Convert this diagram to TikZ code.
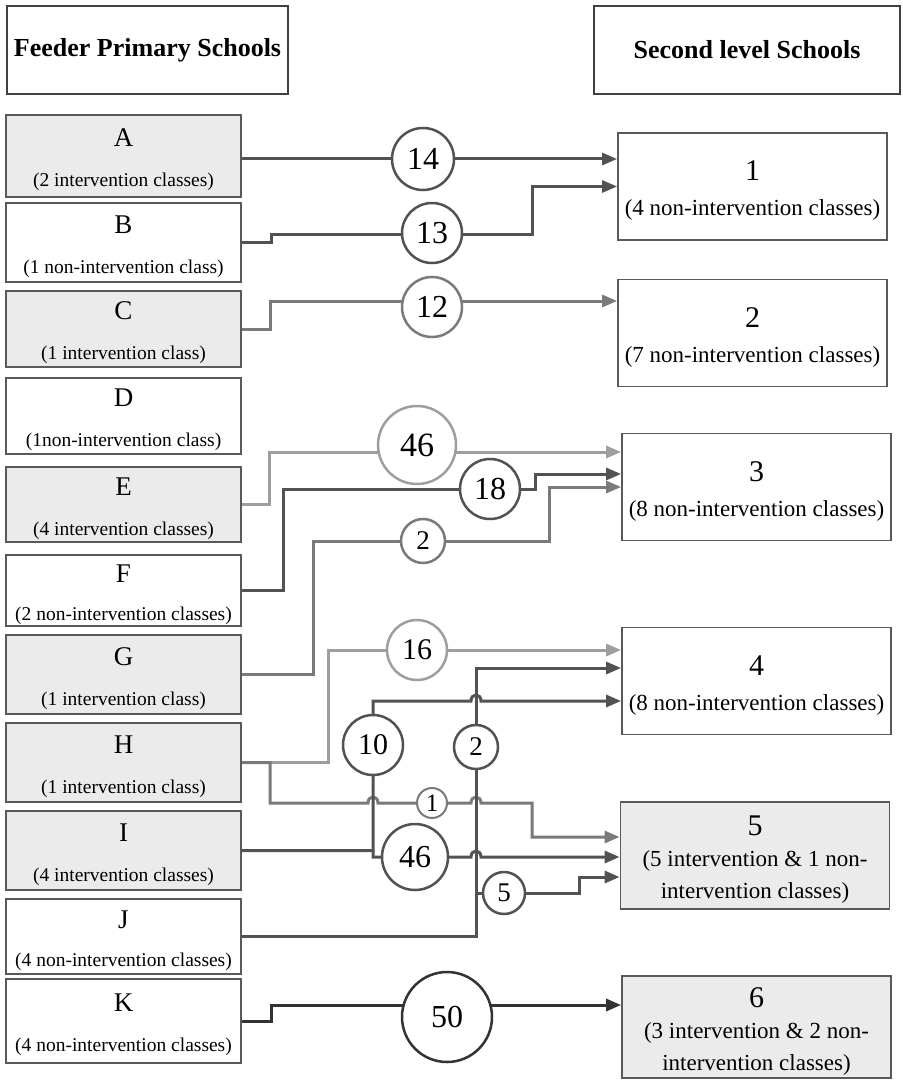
\documentclass[tikz,border=0pt]{standalone}
\usepackage{fontspec}
\setmainfont{Liberation Serif}
\usetikzlibrary{arrows.meta,backgrounds}
\newcommand{\schoolfont}{\fontsize{27}{27}\selectfont\rule{0pt}{26pt}}
\newcommand{\secfont}{\fontsize{30}{30}\selectfont\rule{0pt}{28pt}}

\begin{document}
\begin{tikzpicture}[x=1pt,y=-1pt,
    head/.style={draw=black!75,line width=1.3pt,minimum height=88pt,inner sep=0pt,font=\fontsize{26}{30}\selectfont\bfseries},
    feeder/.style={draw=black!65,line width=1.8pt,minimum width=235pt,align=center,inner sep=0pt,font=\fontsize{19.5}{24}\selectfont},
    second/.style={draw=black!65,line width=1.8pt,minimum width=269pt,minimum height=107pt,align=center,inner sep=0pt,font=\fontsize{23}{32}\selectfont},
    shade/.style={fill=black!8},
    flow/.style={circle,draw,fill=white,line width=2.5pt,inner sep=0pt,font=\fontsize{32}{32}\selectfont},
    link/.style={line width=3pt,-{Triangle[length=15pt,width=12pt]}},
    dk/.style={draw=black!68},
    md/.style={draw=black!52},
    lt/.style={draw=black!38}]
    \useasboundingbox (0,0) rectangle (902,1083);
    % headings
    \node[head,minimum width=281pt] (hfeed) at (147.5,50) {Feeder Primary Schools};
    \node[head,minimum width=306pt] (hsec) at (747,50) {Second level Schools};
    % feeder primary schools
    \node[feeder,shade,minimum height=82pt] (A) at (123.5,156) {{\schoolfont A}\\[16pt](2 intervention classes)};
    \node[feeder,minimum height=79pt] (B) at (123.5,242.5) {{\schoolfont B}\\[16pt](1 non-intervention class)};
    \node[feeder,shade,minimum height=76pt] (C) at (123.5,329) {{\schoolfont C}\\[16pt](1 intervention class)};
    \node[feeder,minimum height=76pt] (D) at (123.5,416) {{\schoolfont D}\\[16pt](1non-intervention class)};
    \node[feeder,shade,minimum height=75pt] (E) at (123.5,504.5) {{\schoolfont E}\\[16pt](4 intervention classes)};
    \node[feeder,minimum height=71pt] (F) at (123.5,590.5) {{\schoolfont F}\\[14pt](2 non-intervention classes)};
    \node[feeder,shade,minimum height=79pt] (G) at (123.5,674.5) {{\schoolfont G}\\[16pt](1 intervention class)};
    \node[feeder,shade,minimum height=79pt] (H) at (123.5,762.5) {{\schoolfont H}\\[16pt](1 intervention class)};
    \node[feeder,shade,minimum height=79pt] (I) at (123.5,850.5) {{\schoolfont I}\\[16pt](4 intervention classes)};
    \node[feeder,minimum height=75pt] (J) at (123.5,936.5) {{\schoolfont J}\\[14pt](4 non-intervention classes)};
    \node[feeder,minimum height=84pt] (K) at (123.5,1021) {{\schoolfont K}\\[16pt](4 non-intervention classes)};
    % second level schools
    \node[second] (s1) at (752.5,186.5) {{\secfont 1}\\[3pt](4 non-intervention classes)};
    \node[second] (s2) at (752.5,333) {{\secfont 2}\\[3pt](7 non-intervention classes)};
    \node[second] (s3) at (756.5,487) {{\secfont 3}\\[3pt](8 non-intervention classes)};
    \node[second] (s4) at (756.5,681) {{\secfont 4}\\[3pt](8 non-intervention classes)};
    \node[second,shade] (s5) at (755,855.5) {{\secfont 5}\\[-1pt](5 intervention \& 1 non-\\intervention classes)};
    \node[second,shade,minimum height=102pt] (s6) at (756.5,1027) {{\secfont 6}\\[-1pt](3 intervention \& 2 non-\\intervention classes)};
    % pupil numbers
    \node[flow,dk,minimum size=62pt] (n14) at (423,159) {14};
    \node[flow,dk,minimum size=60pt] (n13) at (432,233) {13};
    \node[flow,md,minimum size=60pt] (n12) at (432,307) {12};
    \node[flow,lt,minimum size=78pt,font=\fontsize{34}{34}\selectfont] (n46a) at (417,445) {46};
    \node[flow,dk,minimum size=60pt] (n18) at (490,489) {18};
    \node[flow,md,minimum size=44pt,font=\fontsize{27}{27}\selectfont] (n2a) at (423,541) {2};
    \node[flow,lt,minimum size=60pt,font=\fontsize{30}{30}\selectfont] (n16) at (417,650) {16};
    \node[flow,dk,minimum size=60pt,font=\fontsize{30}{30}\selectfont] (n10) at (373,745) {10};
    \node[flow,dk,minimum size=44pt,font=\fontsize{27}{27}\selectfont] (n2b) at (476,747) {2};
    \node[flow,md,minimum size=30pt,line width=2pt,font=\fontsize{25}{25}\selectfont] (n1) at (432,803) {1};
    \node[flow,dk,minimum size=66pt] (n46b) at (415,857) {46};
    \node[flow,dk,minimum size=42pt,font=\fontsize{27}{27}\selectfont] (n5) at (504,893) {5};
    \node[flow,draw=black!80,minimum size=90pt] (n50) at (447,1017) {50};
    % branch points
    \coordinate (hsplit) at (270,762.5);
    \coordinate (isplit) at (373,850.5);
    \coordinate (jsplit) at (476,893);
    \begin{scope}[on background layer]
        \draw[link,dk] (A.east |- n14) -- (s1.west |- n14);
        \draw[link,dk] (B.east) -- (271,242.5) -- (271,235) -- (532,235) -- (532,186.5) -- (s1.west);
        \draw[link,md] (C.east) -- (270,329) -- (270,301) -- (s2.west |- 0,301);
        \draw[link,lt] (E.east) -- (269,504.5) -- (269,452) -- (s3.west |- 0,452);
        \draw[link,dk] (F.east) -- (283,590.5) -- (283,489) -- (535,489) -- (535,474) -- (s3.west |- 0,474);
        \draw[link,md] (G.east) -- (313,674.5) -- (313,541) -- (549,541) -- (549,487) -- (s3.west);
        \draw[link,lt] (H.east) -- (328,762.5) -- (328,650) -- (s4.west |- 0,650);
        \draw[link,md] (H.east) -- (hsplit) -- (270,803) -- (368,803) .. controls (368,795) and (378,795) .. (378,803)
            -- (471,803) .. controls (471,795) and (481,795) .. (481,803) -- (532,803) -- (532,837) -- (s5.west |- 0,837);
        \draw[link,dk] (I.east) -- (isplit) -- (373,701) -- (471,701) .. controls (471,693) and (481,693) .. (481,701) -- (s4.west |- 0,701);
        \draw[link,dk] (isplit) -- (373,857) -- (471,857) .. controls (471,849) and (481,849) .. (481,857) -- (s5.west |- 0,857);
        \draw[link,dk] (J.east) -- (476,936.5) -- (476,668) -- (s4.west |- 0,668);
        \draw[link,dk] (jsplit) -- (579,893) -- (579,877) -- (s5.west |- 0,877);
        \draw[link,draw=black!80] (K.east) -- (271,1021) -- (271,1005) -- (s6.west |- 0,1005);
    \end{scope}
\end{tikzpicture}
\end{document}
